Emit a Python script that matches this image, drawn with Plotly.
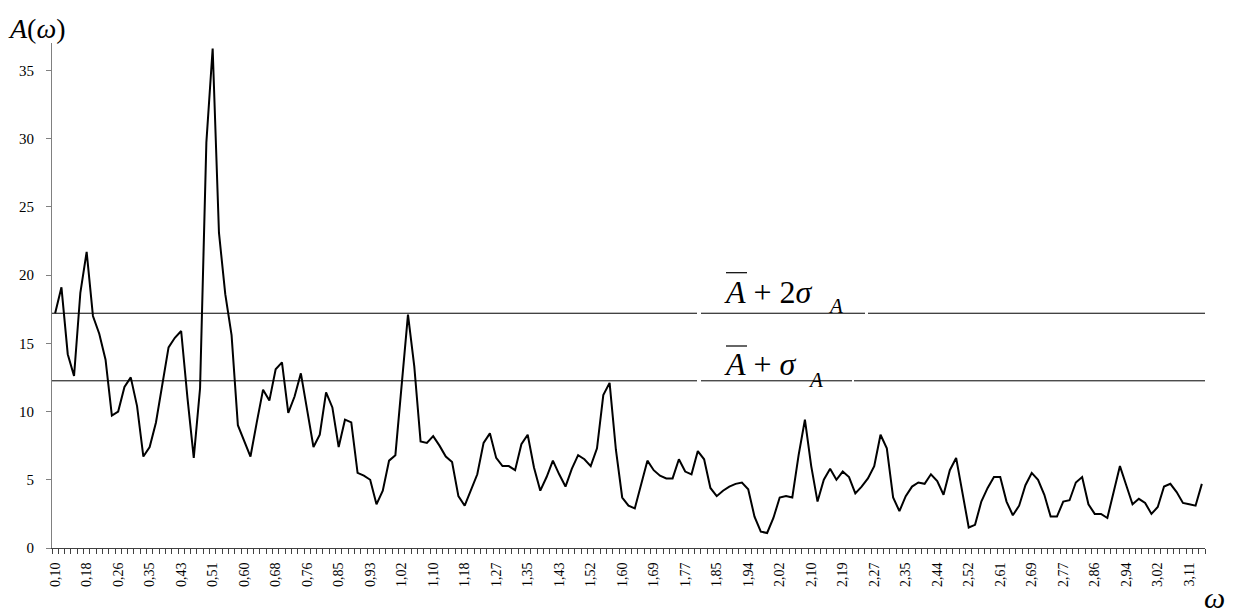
import plotly.graph_objects as go

# Amplitude spectrum A(omega), one value per frequency step
amplitude = [
    17.2, 19.1, 14.2, 12.6, 18.7, 21.7, 17.0, 15.7, 13.8, 9.7,
    10.0, 11.8, 12.5, 10.4, 6.7, 7.4, 9.2, 12.0, 14.7, 15.4,
    15.9, 11.0, 6.6, 11.7, 29.7, 36.6, 23.1, 18.6, 15.6, 9.0,
    7.8, 6.7, 9.2, 11.6, 10.8, 13.1, 13.6, 9.9, 11.1, 12.8,
    10.1, 7.4, 8.3, 11.4, 10.3, 7.4, 9.4, 9.2, 5.5, 5.3,
    5.0, 3.2, 4.2, 6.4, 6.8, 11.7, 17.1, 13.3, 7.8, 7.7,
    8.2, 7.5, 6.7, 6.3, 3.8, 3.1, 4.2, 5.4, 7.7, 8.4,
    6.6, 6.0, 6.0, 5.7, 7.6, 8.3, 5.9, 4.2, 5.2, 6.4,
    5.4, 4.5, 5.8, 6.8, 6.5, 6.0, 7.3, 11.2, 12.1, 7.2,
    3.7, 3.1, 2.9, 4.6, 6.4, 5.7, 5.3, 5.1, 5.1, 6.5,
    5.6, 5.4, 7.1, 6.5, 4.4, 3.8, 4.2, 4.5, 4.7, 4.8,
    4.3, 2.3, 1.2, 1.1, 2.2, 3.7, 3.8, 3.7, 6.8, 9.4,
    6.0, 3.4, 5.0, 5.8, 5.0, 5.6, 5.2, 4.0, 4.5, 5.1,
    6.0, 8.3, 7.3, 3.7, 2.7, 3.8, 4.5, 4.8, 4.7, 5.4,
    4.9, 3.9, 5.7, 6.6, 4.1, 1.5, 1.7, 3.4, 4.4, 5.2,
    5.2, 3.4, 2.4, 3.1, 4.6, 5.5, 5.0, 3.9, 2.3, 2.3,
    3.4, 3.5, 4.8, 5.2, 3.2, 2.5, 2.5, 2.2, 4.1, 6.0,
    4.6, 3.2, 3.6, 3.3, 2.5, 3.0, 4.5, 4.7, 4.1, 3.3,
    3.2, 3.1, 4.7,
]

# Frequency labels shown under every fifth point
omega_labels = [
    "0,10", "0,18", "0,26", "0,35", "0,43", "0,51", "0,60", "0,68", "0,76",
    "0,85", "0,93", "1,02", "1,10", "1,18", "1,27", "1,35", "1,43", "1,52",
    "1,60", "1,69", "1,77", "1,85", "1,94", "2,02", "2,10", "2,19", "2,27",
    "2,35", "2,44", "2,52", "2,61", "2,69", "2,77", "2,86", "2,94", "3,02",
    "3,11",
]
label_every = 5

# Threshold levels: mean + sigma and mean + 2 sigma
level_sigma = 12.25
level_2sigma = 17.2

y_ticks = [0, 5, 10, 15, 20, 25, 30, 35]

n = len(amplitude)
positions = list(range(n))
label_positions = positions[::label_every][:len(omega_labels)]

SERIF = "Liberation Serif, Times New Roman, DejaVu Serif, serif"

fig = go.Figure()
fig.add_trace(go.Scatter(
    x=positions, y=amplitude, mode="lines",
    line=dict(color="black", width=2), hoverinfo="skip", showlegend=False,
))

L, R, T, B = 52, 33, 43, 66
W, H = 1238, 614
pw, ph = W - L - R, H - T - B


def px(xpix):
    return (xpix - L) / pw


def py(ypix):
    return (H - B - ypix) / ph


shapes = []
# Horizontal threshold lines, broken where the formula boxes sit
for level, gaps in ((level_2sigma, [(697, 701), (865, 868)]),
                    (level_sigma, [(697, 701), (852, 854)])):
    start = 0.0
    for g0, g1 in gaps:
        shapes.append(dict(type="line", xref="paper", yref="y",
                           x0=start, x1=px(g0), y0=level, y1=level,
                           line=dict(color="black", width=1)))
        start = px(g1)
    shapes.append(dict(type="line", xref="paper", yref="y",
                       x0=start, x1=1.0, y0=level, y1=level,
                       line=dict(color="black", width=1)))

# Overbars of the mean symbol
for ybar in (272.7, 346.0):
    shapes.append(dict(type="line", xref="paper", yref="paper",
                       x0=px(726), x1=px(747), y0=py(ybar), y1=py(ybar),
                       line=dict(color="black", width=1.2)))

annotations = [
    dict(text="<i>A</i>(<i>ω</i>)", xref="paper", yref="paper",
         x=px(6), y=py(29), xanchor="left", yanchor="middle",
         showarrow=False, font=dict(family=SERIF, size=28, color="black")),
    dict(text="<i>ω</i>", xref="paper", yref="paper",
         x=px(1202), y=py(597), xanchor="left", yanchor="middle",
         showarrow=False, font=dict(family=SERIF, size=30, color="black")),
    dict(text="<i>A</i> + 2<i>σ</i>", xref="paper", yref="paper",
         x=px(722), y=py(292), xanchor="left", yanchor="middle",
         showarrow=False, font=dict(family=SERIF, size=32, color="black")),
    dict(text="<i>A</i>", xref="paper", yref="paper",
         x=px(826), y=py(306), xanchor="left", yanchor="middle",
         showarrow=False, font=dict(family=SERIF, size=21, color="black")),
    dict(text="<i>A</i> + <i>σ</i>", xref="paper", yref="paper",
         x=px(722), y=py(364), xanchor="left", yanchor="middle",
         showarrow=False, font=dict(family=SERIF, size=32, color="black")),
    dict(text="<i>A</i>", xref="paper", yref="paper",
         x=px(806), y=py(380), xanchor="left", yanchor="middle",
         showarrow=False, font=dict(family=SERIF, size=21, color="black")),
]

fig.update_layout(
    width=W, height=H,
    margin=dict(l=L, r=R, t=T, b=B, pad=0),
    paper_bgcolor="white", plot_bgcolor="white",
    shapes=shapes, annotations=annotations,
    font=dict(family=SERIF, color="black"),
)

fig.update_xaxes(
    range=[-0.5, n - 0.5],
    tickmode="array", tickvals=label_positions, ticktext=omega_labels,
    tickangle=-90, ticks="", tickfont=dict(family=SERIF, size=14),
    ticklabelstandoff=8,
    showgrid=False, zeroline=False,
    showline=True, linecolor="#404040", linewidth=1,
    minor=dict(tickmode="array", tickvals=[p - 0.5 for p in range(n + 1)],
               ticks="outside", ticklen=5, tickcolor="#404040", tickwidth=1,
               showgrid=False),
)
fig.update_yaxes(
    range=[0, 37],
    tickmode="array", tickvals=y_ticks,
    ticks="outside", ticklen=5, tickcolor="#808080", tickwidth=1,
    tickfont=dict(family=SERIF, size=15), ticklabelstandoff=9,
    showgrid=False, zeroline=False,
    showline=True, linecolor="#808080", linewidth=1,
)

fig.write_html("out.html")
